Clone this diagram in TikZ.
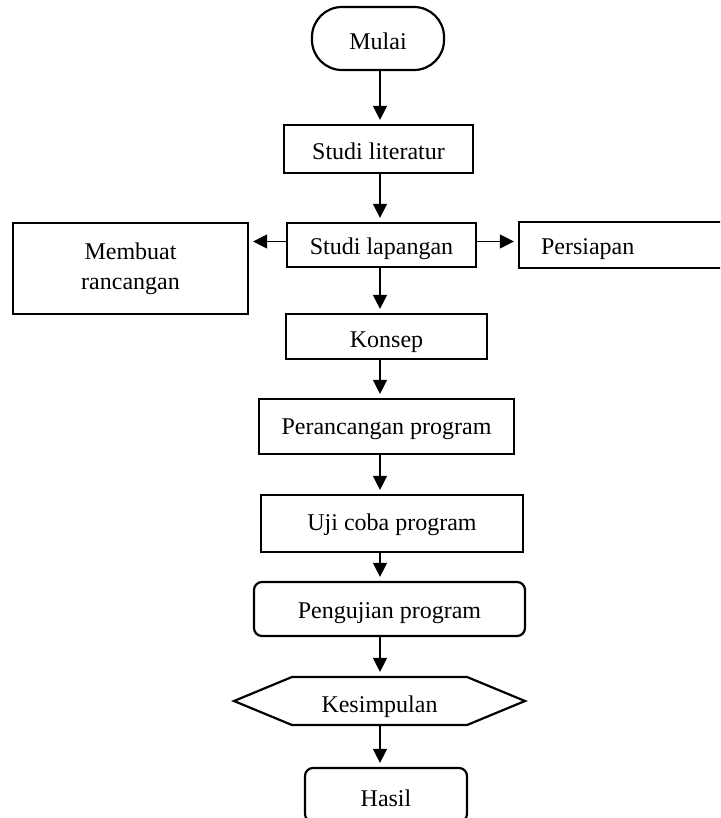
\documentclass[tikz,border=0pt]{standalone}
\usepackage{fontspec}
\setmainfont{Liberation Serif}
\usetikzlibrary{arrows.meta, shapes.symbols, calc}

\tikzset{
  kotak/.style={draw, line width=1.1pt, inner sep=0pt,
    font=\fontsize{12}{15}\selectfont, text depth=0pt},
  terminal/.style={kotak, rounded corners=15pt},
  bulat/.style={kotak, rounded corners=4pt},
  heksa/.style={kotak, signal, signal to=east and west,
    signal pointer angle=45},
  panah/.style={line width=0.65pt, shorten >=2pt,
    -{Triangle[length=7pt,width=7pt]}},
}

\begin{document}
\begin{tikzpicture}[x=0.5pt,y=-0.5pt]
         \useasboundingbox (0,0) rectangle (720,818);
         \clip (0,0) rectangle (720,818);
         \coordinate (poros) at (380,0);
         \node[terminal, minimum width=66pt, minimum height=31.5pt,
         text height=11.4pt] (mulai) at (378,38.5) {Mulai};
         \node[kotak, minimum width=94.5pt, minimum height=24pt,
         text height=10.4pt] (literatur) at (378.5,149) {Studi literatur};
         \node[kotak, minimum width=94.5pt, minimum height=22pt,
         text height=9.9pt] (lapangan) at (381.5,245) {Studi lapangan};
         \node[kotak, minimum width=117.5pt, minimum height=45.5pt,
         align=center, text depth=, text height=] (rancangan)
         at (130.5,268.5) {Membuat\\rancangan};
         \node[kotak, text width=88pt, inner xsep=11pt, align=left,
         minimum height=23pt, text height=9.9pt] (persiapan)
         at (629,245) {Persiapan};
         \node[kotak, minimum width=100.5pt, minimum height=22.5pt,
         text height=10.9pt] (konsep) at (386.5,336.5) {Konsep};
         \node[kotak, minimum width=127.5pt, minimum height=27.5pt,
         text height=7.9pt] (perancangan) at (386.5,426.5)
         {Perancangan program};
         \node[kotak, minimum width=131pt, minimum height=28.5pt,
         text height=6.9pt] (ujicoba) at (392,523.5) {Uji coba program};
         \node[bulat, minimum width=135.5pt, minimum height=27pt,
         text height=9.4pt] (pengujian) at (389.5,609)
         {Pengujian program};
         \node[heksa, minimum width=145.5pt, minimum height=24pt,
         text height=11.9pt] (kesimpulan) at (379.5,701) {Kesimpulan};
         \node[bulat, minimum width=81pt, minimum height=27pt,
         text height=11.4pt] (hasil) at (386,795) {Hasil};
         \draw[panah] (mulai.south -| poros) -- (literatur.north -| poros);
         \draw[panah] (literatur.south -| poros) -- (lapangan.north -| poros);
         \draw[panah] ([yshift=1.75pt]lapangan.west)
         -- ([yshift=1.75pt]lapangan.west -| rancangan.east);
         \draw[panah] ([yshift=1.75pt]lapangan.east)
         -- ([yshift=1.75pt]lapangan.east -| persiapan.west);
         \draw[panah] (lapangan.south -| poros) -- (konsep.north -| poros);
         \draw[panah] (konsep.south -| poros) -- (perancangan.north -| poros);
         \draw[panah] (perancangan.south -| poros) -- (ujicoba.north -| poros);
         \draw[panah] (ujicoba.south -| poros) -- (pengujian.north -| poros);
         \draw[panah] (pengujian.south -| poros) -- (kesimpulan.north -| poros);
         \draw[panah] (kesimpulan.south -| poros) -- (hasil.north -| poros);
         \end{tikzpicture}
\end{document}
